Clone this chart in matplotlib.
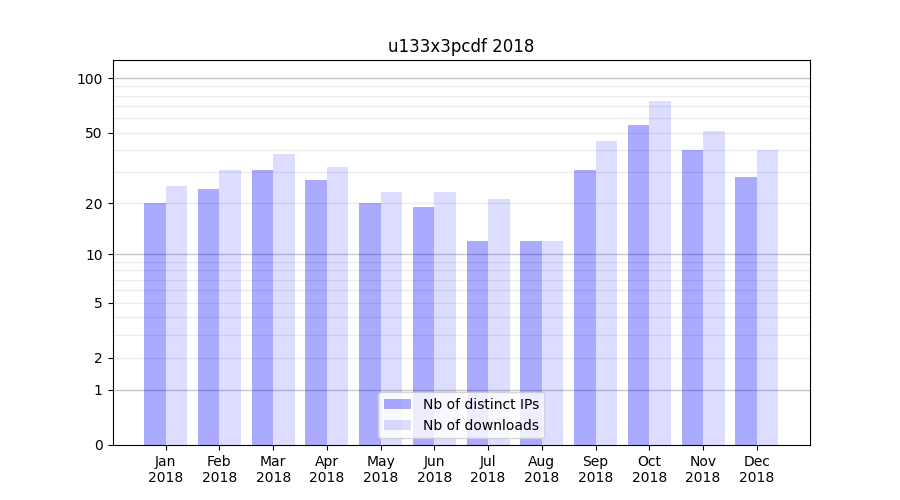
import matplotlib
matplotlib.use("Agg")
import matplotlib.pyplot as plt
import numpy as np

months = ["Jan", "Feb", "Mar", "Apr", "May", "Jun", "Jul", "Aug", "Sep", "Oct", "Nov", "Dec"]
year = "2018"
distinct_ips = [20, 24, 31, 27, 20, 19, 12, 12, 31, 55, 40, 28]
downloads = [25, 31, 38, 32, 23, 23, 21, 12, 45, 75, 51, 40]
ytick_values = [0, 1, 2, 5, 10, 20, 50, 100]

fig, ax = plt.subplots(figsize=(9, 5), dpi=100)
ax.set_yscale("function", functions=(lambda y: np.log10(1 + np.clip(y, 0, None)),
                                     lambda y: 10 ** y - 1))

# grid lines: decades darker, in-between lighter
for d in [1, 10, 100]:
    ax.axhline(d, color="#c8c8c8", lw=1, zorder=0)
for m in list(range(2, 10)) + list(range(20, 100, 10)):
    ax.axhline(m, color="#ececec", lw=1, zorder=0)

x = np.arange(len(months))
ax.bar(x - 0.2, distinct_ips, width=0.4, color="blue", alpha=1/3, label="Nb of distinct IPs", zorder=1)
ax.bar(x + 0.2, downloads, width=0.4, color="blue", alpha=0.133, label="Nb of downloads", zorder=1)

ax.set_ylim(0, 126)
ax.set_yticks(ytick_values)
ax.set_yticklabels([str(v) for v in ytick_values])
ax.minorticks_off()
ax.set_xticks(x)
ax.set_xticklabels([m + "\n" + year for m in months])
ax.set_title("u133x3pcdf 2018")
ax.legend(loc="lower center")

plt.savefig("out.png", dpi=100)
